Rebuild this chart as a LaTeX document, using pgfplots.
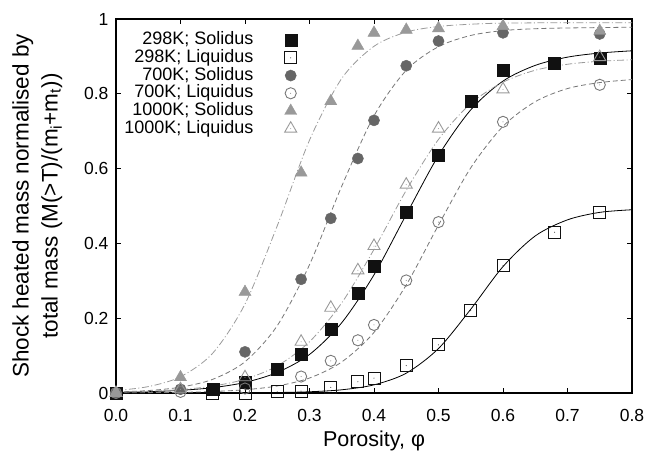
\documentclass[border=0pt]{standalone}
\usepackage{fontspec}
\setmainfont{Liberation Sans}
\usepackage{pgfplots}
\pgfplotsset{compat=1.18}
\definecolor{mkA}{HTML}{111111}
\definecolor{mkB}{HTML}{666666}
\definecolor{mkC}{HTML}{999999}
\definecolor{lnB}{HTML}{777777}
\definecolor{lnC}{HTML}{9A9A9A}
\pgfdeclareplotmark{dsq}{\pgfuseplotmark{square}\pgfpathcircle{\pgfpointorigin}{0.5pt}\pgfusepathqfill}
\pgfdeclareplotmark{dci}{\pgfuseplotmark{o}\pgfpathcircle{\pgfpointorigin}{0.5pt}\pgfusepathqfill}
\pgfdeclareplotmark{dtr}{\pgfuseplotmark{triangle}\pgfpathcircle{\pgfpointorigin}{0.5pt}\pgfusepathqfill}
\pgfplotsset{lgm/.style={legend image code/.code={\path (0pt,-1pt) (42pt,1pt); \draw[##1] plot coordinates {(36pt,0pt)};}}}
\begin{document}
\begin{tikzpicture}
\begin{axis}[name=ax,
  scale only axis, width=516pt, height=374pt,
  xmin=0, xmax=0.8, ymin=0, ymax=1,
  xtick={0,0.1,...,0.8}, ytick={0,0.2,0.4,0.6,0.8,1},
  xticklabel style={/pgf/number format/fixed,/pgf/number format/fixed zerofill,/pgf/number format/precision=1, yshift=-13pt},
  yticklabel style={/pgf/number format/fixed, xshift=-4pt},
  /pgf/number format/assume math mode=true,
  tick align=inside, major tick length=5pt,
  tick style={line width=0.9pt, black},
  axis line style={line width=1.3pt},
  ticklabel style={font=\fontsize{17.5}{19}\selectfont},
  xlabel={Porosity, φ},
  ylabel={Shock heated mass normalised by\\total mass (M(>T)/(m\textsubscript{i}+m\textsubscript{t}))},
  label style={font=\fontsize{22.5}{29}\selectfont},
  xlabel style={font=\fontsize{21.5}{24}\selectfont},
  ylabel style={align=center},
  ylabel shift=15pt,
  xlabel shift=2pt,
  legend style={draw=none, fill=none, inner sep=0pt, at={(0.351,0.968)}, anchor=north east,
    row sep=-0.3pt, column sep=0pt,
    nodes={font=\fontsize{18}{18}\selectfont, text height=12.5pt, text depth=3.5pt, inner sep=1pt},
    cells={anchor=east}},
  legend plot pos=right,
]
% fitted curves
\addplot[black, line width=0.8pt, smooth, forget plot] coordinates {
(0,0.0017)(0.05,0.0035)(0.1,0.0071)(0.15,0.0143)(0.2,0.0283)(0.25,0.055)(0.3,0.103)(0.35,0.188)(0.4,0.316)(0.45,0.477)(0.5,0.635)(0.55,0.757)(0.6,0.834)(0.65,0.876)(0.7,0.898)(0.75,0.909)(0.8,0.915)};
\addplot[black, line width=0.8pt, smooth, forget plot] coordinates {
(0,0)(0.1,0.0001)(0.2,0.0005)(0.25,0.0013)(0.3,0.0033)(0.35,0.0086)(0.4,0.0218)(0.45,0.053)(0.5,0.119)(0.55,0.224)(0.6,0.338)(0.65,0.420)(0.7,0.463)(0.75,0.483)(0.8,0.490)};
\addplot[lnB, line width=0.8pt, dash pattern=on 5pt off 3pt, smooth, forget plot] coordinates {
(0,0.0027)(0.05,0.0065)(0.1,0.0156)(0.15,0.0366)(0.2,0.0836)(0.25,0.180)(0.3,0.343)(0.35,0.553)(0.4,0.741)(0.45,0.863)(0.5,0.926)(0.55,0.956)(0.6,0.969)(0.65,0.974)(0.7,0.976)(0.8,0.978)};
\addplot[lnB, line width=0.8pt, dash pattern=on 5pt off 3pt, smooth, forget plot] coordinates {
(0,0.0004)(0.1,0.0018)(0.15,0.004)(0.2,0.0087)(0.25,0.0188)(0.3,0.040)(0.35,0.083)(0.4,0.162)(0.45,0.289)(0.5,0.449)(0.55,0.602)(0.6,0.713)(0.65,0.779)(0.7,0.814)(0.75,0.830)(0.8,0.838)};
\addplot[lnC, line width=0.8pt, dash pattern=on 7pt off 2.5pt on 1pt off 2.5pt, smooth, forget plot] coordinates {
(0,0.0066)(0.05,0.0171)(0.1,0.0435)(0.15,0.1065)(0.2,0.238)(0.25,0.447)(0.3,0.676)(0.35,0.841)(0.4,0.927)(0.45,0.965)(0.5,0.980)(0.55,0.986)(0.6,0.989)(0.7,0.99)(0.8,0.99)};
\addplot[lnC, line width=0.8pt, dash pattern=on 7pt off 2.5pt on 1pt off 2.5pt, smooth, forget plot] coordinates {
(0,0.0022)(0.05,0.0045)(0.1,0.0091)(0.15,0.0184)(0.2,0.037)(0.25,0.0725)(0.3,0.137)(0.35,0.241)(0.4,0.384)(0.45,0.542)(0.5,0.678)(0.55,0.774)(0.6,0.831)(0.65,0.863)(0.7,0.879)(0.75,0.887)(0.8,0.891)};
% data
\addplot[only marks, lgm, mark=square*, mark size=6pt, mark options={draw=mkA, fill=mkA}] coordinates {
(0,0)(0.15,0.009)(0.2,0.03)(0.25,0.064)(0.287,0.104)(0.333,0.171)(0.375,0.267)(0.4,0.34)(0.45,0.483)(0.5,0.637)(0.55,0.78)(0.6,0.862)(0.68,0.882)(0.75,0.895)};
\addlegendentry{298K; Solidus}
\addplot[only marks, lgm, mark=dsq, mark size=6pt, mark options={draw=mkA, fill=mkA, line width=0.9pt}] coordinates {
(0,0)(0.15,0)(0.2,0)(0.25,0.003)(0.287,0.005)(0.333,0.015)(0.375,0.03)(0.4,0.04)(0.45,0.073)(0.5,0.129)(0.55,0.22)(0.6,0.34)(0.68,0.43)(0.75,0.482)};
\addlegendentry{298K; Liquidus}
\addplot[only marks, lgm, mark=*, mark size=5.6pt, mark options={draw=mkB, fill=mkB}] coordinates {
(0,0)(0.1,0.01)(0.2,0.11)(0.287,0.304)(0.333,0.467)(0.375,0.627)(0.4,0.729)(0.45,0.875)(0.5,0.941)(0.6,0.963)(0.75,0.96)};
\addlegendentry{700K; Solidus}
\addplot[only marks, lgm, mark=dci, mark size=5.6pt, mark options={draw=lnB, fill=lnB, line width=0.9pt}] coordinates {
(0,0)(0.1,0.003)(0.2,0.012)(0.287,0.044)(0.333,0.086)(0.375,0.141)(0.4,0.182)(0.45,0.301)(0.5,0.457)(0.6,0.725)(0.75,0.824)};
\addlegendentry{700K; Liquidus}
\addplot[only marks, lgm, mark=triangle*, mark size=7pt, mark options={draw=mkC, fill=mkC}] coordinates {
(0,0)(0.1,0.042)(0.2,0.27)(0.287,0.589)(0.333,0.78)(0.375,0.928)(0.4,0.963)(0.45,0.971)(0.5,0.975)(0.6,0.981)(0.75,0.968)};
\addlegendentry{1000K; Solidus}
\addplot[only marks, lgm, mark=dtr, mark size=7pt, mark options={draw=mkC, fill=mkC, line width=0.9pt}] coordinates {
(0,0)(0.1,0.01)(0.2,0.042)(0.287,0.137)(0.333,0.228)(0.375,0.328)(0.4,0.393)(0.45,0.557)(0.5,0.707)(0.6,0.812)(0.75,0.898)};
\addlegendentry{1000K; Liquidus}
\end{axis}
\pgfresetboundingbox
\path ([shift={(-116pt,-59pt)}]ax.south west) rectangle ([shift={(28pt,19pt)}]ax.north east);
\end{tikzpicture}
\end{document}
